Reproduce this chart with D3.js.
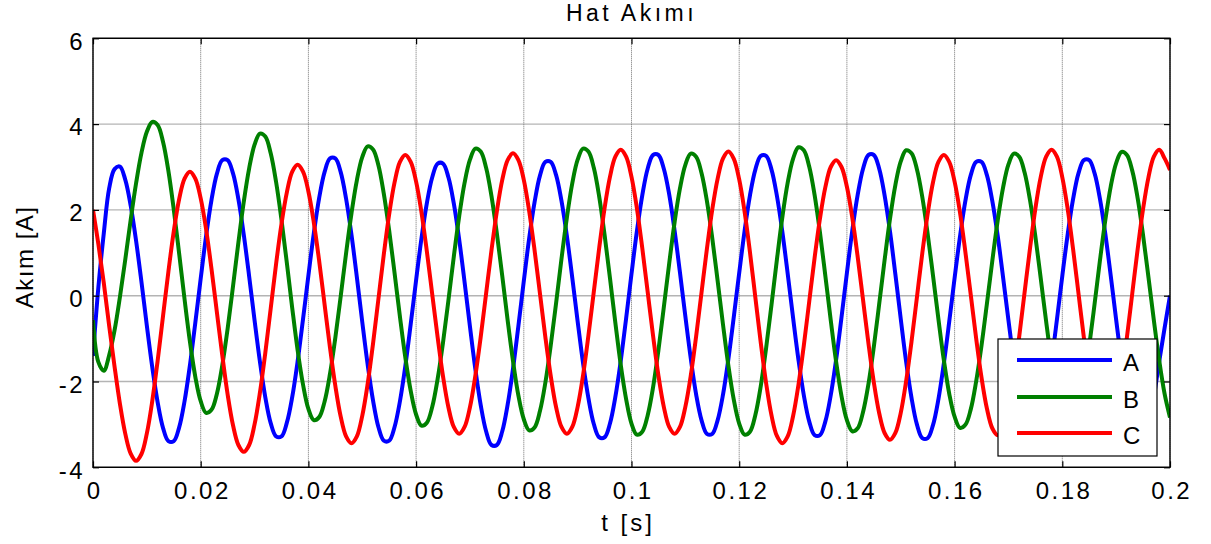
<!DOCTYPE html>
<html><head><meta charset="utf-8">
<script src="https://cdn.jsdelivr.net/npm/d3@7"></script>
<style>
body{margin:0;background:#fff;}
text{font-family:"Liberation Sans",Arial,sans-serif;fill:#000;}
</style></head>
<body><svg id="chart" width="1211" height="544"></svg>
<script>
// ---- data ----
const titleText = "Hat Akımı";
const xLabelText = "t [s]";
const yLabelText = "Akım [A]";
const seriesNames = ["A", "B", "C"];
const seriesColors = ["#0000ff", "#008000", "#ff0000"];
const sampleStep = 0.001; // s, one value per millisecond, t = 0 ... 0.2

const currentA = [-1.4,0.2,1.45,2.5,2.95,
3.01,2.70,2.10,1.28,0.32,-0.70,-1.66,-2.48,-3.08,-3.39,
-3.39,-3.07,-2.46,-1.62,-0.63,0.40,1.39,2.23,2.84,3.16,
3.16,2.85,2.25,1.42,0.45,-0.57,-1.54,-2.37,-2.97,-3.28,
-3.28,-2.96,-2.36,-1.53,-0.55,0.47,1.45,2.28,2.88,3.20,
3.20,2.88,2.26,1.42,0.43,-0.61,-1.60,-2.44,-3.06,-3.38,
-3.38,-3.06,-2.46,-1.64,-0.66,0.36,1.34,2.16,2.76,3.08,
3.08,2.76,2.15,1.31,0.32,-0.72,-1.71,-2.55,-3.16,-3.48,
-3.48,-3.16,-2.54,-1.70,-0.70,0.34,1.34,2.18,2.80,3.12,
3.12,2.81,2.21,1.39,0.42,-0.60,-1.57,-2.39,-2.99,-3.30,
-3.30,-2.98,-2.36,-1.52,-0.53,0.51,1.50,2.34,2.96,3.28,
3.28,2.96,2.36,1.52,0.54,-0.48,-1.46,-2.30,-2.90,-3.22,
-3.22,-2.90,-2.30,-1.47,-0.49,0.53,1.51,2.34,2.94,3.26,
3.26,2.94,2.33,1.50,0.52,-0.51,-1.49,-2.32,-2.93,-3.25,
-3.25,-2.93,-2.32,-1.49,-0.50,0.53,1.52,2.35,2.96,3.28,
3.28,2.96,2.34,1.50,0.50,-0.54,-1.54,-2.38,-3.00,-3.32,
-3.32,-3.01,-2.41,-1.58,-0.61,0.41,1.38,2.21,2.81,3.12,
3.12,2.81,2.21,1.40,0.43,-0.57,-1.54,-2.35,-2.95,-3.26,
-3.26,-2.95,-2.35,-1.53,-0.56,0.46,1.43,2.25,2.85,3.16,
3.16,2.85,2.25,1.43,0.46,-0.56,-1.53,-2.35,-2.95,-3.26,
-3.26,-2.95,-2.35,-1.53,-0.75,0.0];

const currentB = [-0.57,-1.55,-1.75,-1.39,-0.81,-0.03,0.85,1.77,2.62,3.33,3.82,4.05,
3.98,3.59,2.91,2.01,0.98,-0.08,-1.07,-1.89,-2.46,-2.73,
-2.66,-2.29,-1.63,-0.77,0.22,1.24,2.19,2.97,3.52,3.78,
3.71,3.32,2.65,1.77,0.76,-0.29,-1.27,-2.07,-2.64,-2.90,
-2.83,-2.47,-1.83,-0.98,-0.01,0.99,1.92,2.69,3.23,3.48,
3.41,3.04,2.38,1.52,0.53,-0.49,-1.44,-2.22,-2.77,-3.03,
-2.96,-2.59,-1.94,-1.09,-0.11,0.91,1.85,2.63,3.17,3.43,
3.36,2.98,2.32,1.45,0.46,-0.57,-1.53,-2.33,-2.88,-3.14,
-3.07,-2.69,-2.03,-1.16,-0.17,0.86,1.82,2.62,3.17,3.43,
3.36,2.98,2.31,1.42,0.41,-0.63,-1.61,-2.41,-2.98,-3.24,
-3.17,-2.79,-2.14,-1.27,-0.27,0.75,1.71,2.50,3.05,3.31,
3.24,2.86,2.21,1.34,0.34,-0.68,-1.64,-2.43,-2.98,-3.24,
-3.17,-2.78,-2.11,-1.22,-0.21,0.84,1.82,2.63,3.19,3.46,
3.39,3.01,2.35,1.47,0.46,-0.57,-1.54,-2.34,-2.90,-3.16,
-3.09,-2.71,-2.06,-1.19,-0.19,0.83,1.79,2.58,3.13,3.39,
3.32,2.95,2.30,1.44,0.46,-0.55,-1.50,-2.28,-2.82,-3.08,
-3.01,-2.65,-2.00,-1.16,-0.19,0.81,1.75,2.52,3.06,3.31,
3.24,2.87,2.23,1.38,0.40,-0.60,-1.54,-2.32,-2.86,-3.11,
-3.04,-2.67,-2.02,-1.17,-0.19,0.83,1.77,2.55,3.09,3.35,
3.28,2.91,2.27,1.41,0.43,-0.57,-1.51,-2.29,-2.84];

const currentC = [2.0,1.2,0.3,-0.7,-1.65,-2.52,-3.22,-3.68,-3.85,
-3.69,-3.21,-2.46,-1.52,-0.48,0.56,1.50,2.25,2.73,2.89,
2.73,2.27,1.55,0.63,-0.38,-1.38,-2.30,-3.02,-3.48,-3.64,
-3.48,-3.00,-2.26,-1.33,-0.30,0.74,1.67,2.41,2.89,3.05,
2.89,2.43,1.71,0.81,-0.20,-1.20,-2.10,-2.82,-3.28,-3.44,
-3.28,-2.80,-2.06,-1.12,-0.08,0.96,1.90,2.64,3.12,3.28,
3.12,2.66,1.94,1.03,0.03,-0.97,-1.88,-2.60,-3.06,-3.22,
-3.06,-2.60,-1.87,-0.96,0.05,1.06,1.97,2.70,3.16,3.32,
3.16,2.70,1.97,1.06,0.05,-0.96,-1.87,-2.60,-3.06,-3.22,
-3.06,-2.59,-1.86,-0.93,0.09,1.11,2.04,2.77,3.24,3.40,
3.24,2.77,2.04,1.11,0.09,-0.93,-1.86,-2.59,-3.06,-3.22,
-3.06,-2.59,-1.87,-0.95,0.07,1.09,2.01,2.73,3.20,3.36,
3.19,2.71,1.96,1.01,-0.04,-1.09,-2.04,-2.79,-3.27,-3.44,
-3.28,-2.81,-2.08,-1.16,-0.14,0.88,1.80,2.53,3.00,3.16,
3.00,2.54,1.82,0.91,-0.10,-1.11,-2.02,-2.74,-3.20,-3.36,
-3.20,-2.73,-1.99,-1.07,-0.04,0.99,1.91,2.65,3.12,3.28,
3.12,2.66,1.94,1.02,0.02,-0.99,-1.91,-2.63,-3.09,-3.25,
-3.09,-2.62,-1.88,-0.95,0.08,1.10,2.03,2.77,3.24,3.40,
3.24,2.76,2.02,1.09,0.06,-0.97,-1.90,-2.64,-3.12,-3.28,
-3.12,-2.64,-1.90,-0.97,0.06,1.09,2.02,2.76,3.24,3.40,
3.2,2.93];

const xTickValues = [0,0.02,0.04,0.06,0.08,0.1,0.12,0.14,0.16,0.18,0.2];
const xTickLabels = ["0","0.02","0.04","0.06","0.08","0.1","0.12","0.14","0.16","0.18","0.2"];
const yTickValues = [-4,-2,0,2,4,6];
const yTickLabels = ["-4","-2","0","2","4","6"];
const xDomain = [0, 0.2];
const yDomain = [-4, 6];

// ---- layout ----
const svg = d3.select("#chart");
const L = 93, R = 1170, T = 38.3, B = 467.3;
const x = d3.scaleLinear().domain(xDomain).range([L, R]);
const y = d3.scaleLinear().domain(yDomain).range([B, T]);

// grid
const grid = svg.append("g");
grid.selectAll("line.hx").data(yTickValues).join("line")
  .attr("x1", L).attr("x2", R).attr("y1", d => y(d)).attr("y2", d => y(d))
  .attr("stroke", "#b4b4b4").attr("stroke-width", 1.4);
grid.selectAll("line.vx").data(xTickValues).join("line")
  .attr("y1", T).attr("y2", B).attr("x1", d => x(d)).attr("x2", d => x(d))
  .attr("stroke", "#707070").attr("stroke-width", 1).attr("stroke-dasharray", "1,1");

// series
svg.append("clipPath").attr("id", "clip").append("rect")
  .attr("x", L).attr("y", T).attr("width", R - L).attr("height", B - T);
const seriesData = [currentA, currentB, currentC];
const line = d3.line()
  .x((d, i) => x(i * sampleStep))
  .y(d => y(d))
  .curve(d3.curveCatmullRom.alpha(0.5));
svg.append("g").attr("clip-path", "url(#clip)")
  .selectAll("path").data(seriesData).join("path")
  .attr("d", d => line(d))
  .attr("fill", "none")
  .attr("stroke", (d, i) => seriesColors[i])
  .attr("stroke-width", 4)
  .attr("stroke-linejoin", "round");

// axes with inward ticks on all sides
const tick = 6;
const xb = d3.axisBottom(x).tickValues(xTickValues).tickSizeInner(-tick).tickSizeOuter(0)
  .tickFormat((d, i) => xTickLabels[i]).tickPadding(14);
const gxb = svg.append("g").attr("transform", `translate(0,${B})`).call(xb);
const xt = d3.axisTop(x).tickValues(xTickValues).tickSizeInner(-tick).tickSizeOuter(0).tickFormat("");
svg.append("g").attr("transform", `translate(0,${T})`).call(xt);
const yl = d3.axisLeft(y).tickValues(yTickValues).tickSizeInner(-tick).tickSizeOuter(0)
  .tickFormat((d, i) => yTickLabels[i]).tickPadding(10);
const gyl = svg.append("g").attr("transform", `translate(${L},0)`).call(yl);
const yr = d3.axisRight(y).tickValues(yTickValues).tickSizeInner(-tick).tickSizeOuter(0).tickFormat("");
svg.append("g").attr("transform", `translate(${R},0)`).call(yr);
svg.selectAll(".domain").remove();
svg.selectAll(".tick line").attr("stroke", "#000").attr("stroke-width", 1.2);

gxb.selectAll(".tick text")
  .attr("font-size", 24).attr("letter-spacing", "2.5px")
  .attr("font-family", '"Liberation Sans",Arial,sans-serif')
  .attr("y", 32).attr("dy", null).attr("dx", 1.25);
gyl.selectAll(".tick text")
  .attr("font-size", 24).attr("letter-spacing", "2.5px")
  .attr("font-family", '"Liberation Sans",Arial,sans-serif')
  .attr("x", -8).attr("dy", "0.45em");

// box
svg.append("rect").attr("x", L).attr("y", T).attr("width", R - L).attr("height", B - T)
  .attr("fill", "none").attr("stroke", "#000").attr("stroke-width", 1.4);

// title and labels
svg.append("text").attr("x", (L + R) / 2).attr("y", 21).attr("text-anchor", "middle")
  .attr("font-size", 23).attr("letter-spacing", "3.5px").text(titleText);
svg.append("text").attr("x", 628).attr("y", 531).attr("text-anchor", "middle")
  .attr("font-size", 24).attr("letter-spacing", "3px").text(xLabelText);
svg.append("text").attr("transform", `translate(33,${(T + B) / 2 + 4}) rotate(-90)`)
  .attr("text-anchor", "middle").attr("font-size", 24).attr("letter-spacing", "1.5px").text(yLabelText);

// legend
const lg = svg.append("g");
lg.append("rect").attr("x", 998).attr("y", 339).attr("width", 159).attr("height", 117)
  .attr("fill", "#fff").attr("stroke", "#000").attr("stroke-width", 1.2);
const legRows = [360, 397, 433];
seriesNames.forEach((n, i) => {
  lg.append("line").attr("x1", 1017).attr("x2", 1112).attr("y1", legRows[i]).attr("y2", legRows[i])
    .attr("stroke", seriesColors[i]).attr("stroke-width", 3.8);
  lg.append("text").attr("x", 1123).attr("y", legRows[i] + 11).attr("font-size", 24).text(n);
});
</script>
</body></html>
